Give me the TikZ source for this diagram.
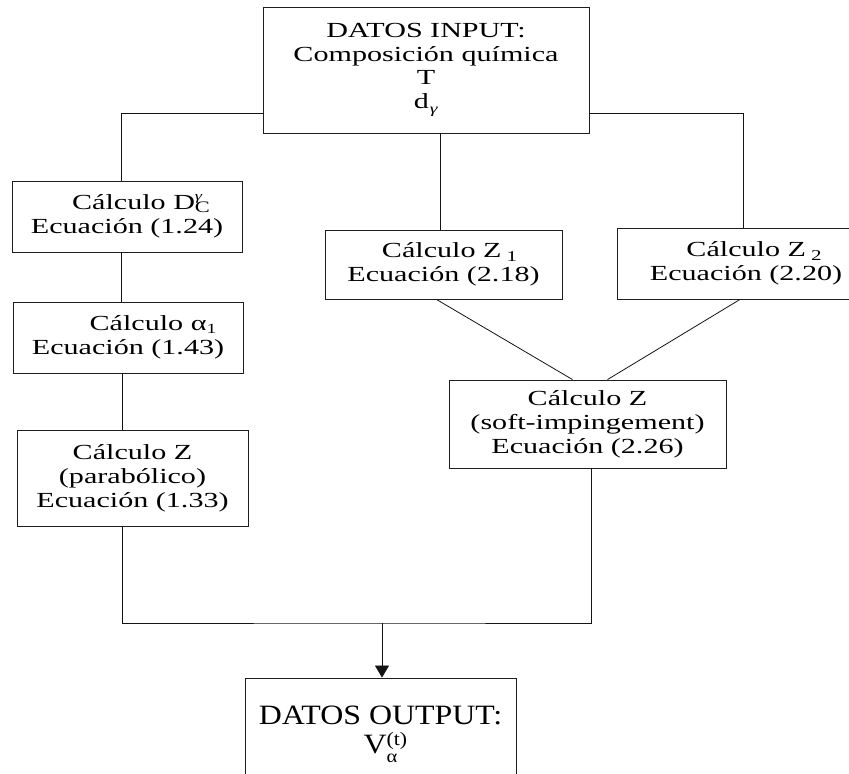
\documentclass[tikz,border=0pt]{standalone}
\usepackage{fontspec}
\setmainfont{Liberation Serif}[FakeStretch=1.4]
\newfontfamily\outfont{Liberation Serif}[FakeStretch=1.14]
\usepackage{tikz}
\usetikzlibrary{arrows.meta}

\begin{document}
\begin{tikzpicture}[x=1pt,y=-1pt,
  calcbox/.style={draw={rgb,255:red,30;green,30;blue,30},line width=0.9pt,inner sep=0pt,align=center,font=\fontsize{21.5}{24}\selectfont},
  link/.style={draw={rgb,255:red,20;green,20;blue,20},line width=0.8pt}]
\path[use as bounding box] (0,0) rectangle (849,774);
\path[fill=white,draw=none] (0,0) rectangle (849,774);
\node[calcbox,minimum width=326pt,minimum height=126pt,font=\fontsize{21.5}{23.5}\selectfont] (inp) at (426,70) {DATOS INPUT:\\Composición química\\T\\d\hspace{1pt}\raisebox{-5pt}{\fontsize{14}{14}\selectfont\textit{γ}}};
\node[calcbox,minimum width=230pt,minimum height=71pt] (dc) at (127,216.5) {\hspace*{28pt}Cálculo D\rlap{\raisebox{9pt}{\fontsize{13}{13}\selectfont\textit{γ}}}\raisebox{-3pt}{\fontsize{16}{16}\selectfont C}\\Ecuación (1.24)};
\node[calcbox,minimum width=230pt,minimum height=71pt] (al) at (128,337.5) {\hspace*{50pt}Cálculo α\raisebox{-3pt}{\fontsize{14}{14}\selectfont 1}\\Ecuación (1.43)};
\node[calcbox,minimum width=231pt,minimum height=96pt] (par) at (132.5,478) {Cálculo Z\\(parabólico)\\Ecuación (1.33)};
\node[calcbox,minimum width=237pt,minimum height=69pt] (z1) at (443.5,264.5) {\hspace*{12pt}Cálculo Z\hspace{5pt}\raisebox{-4pt}{\fontsize{15}{15}\selectfont 1}\\Ecuación (2.18)};
\node[calcbox,minimum width=258pt,minimum height=71pt] (z2) at (746,263.5) {\hspace*{16pt}Cálculo Z\hspace{5pt}\raisebox{-4pt}{\fontsize{15}{15}\selectfont 2}\\Ecuación (2.20)};
\node[calcbox,minimum width=277pt,minimum height=88pt] (soft) at (587.5,424) {Cálculo Z\\(soft-impingement)\\Ecuación (2.26)};
\node[calcbox,minimum width=271pt,minimum height=112pt,font=\outfont\fontsize{28}{29}\selectfont] (out) at (380.5,734) {DATOS OUTPUT:\\V\rlap{\raisebox{8pt}{\fontsize{19}{19}\selectfont (t)}}\raisebox{-9pt}{\fontsize{18}{18}\selectfont α}\hspace{14pt}};
\coordinate (lk) at (121,113);
\coordinate (rk) at (743,113);
\coordinate (mk) at (440,133);
\coordinate (jn) at (382,623);
\draw[link] (inp.west |- lk) -- (lk) -- (lk |- dc.north);
\draw[link] (inp.east |- rk) -- (rk) -- (rk |- z2.north);
\draw[link] (mk) -- (mk |- z1.north);
\draw[link] (dc.south -| lk) -- (al.north -| lk);
\draw[link] ([xshift=1pt]al.south -| lk) -- ([xshift=1pt]par.north -| lk);
\draw[link] ([xshift=-7pt]z1.south) -- ([xshift=-15pt]soft.north);
\draw[link] ([xshift=-6pt]z2.south) -- ([xshift=20pt]soft.north);
\draw[link] ([xshift=-10pt]par.south) |- (jn) -| ([xshift=3.5pt]soft.south);
\draw[link,-{Triangle[length=12pt,width=14pt]}] (jn) -- (out.north -| jn);
\end{tikzpicture}
\end{document}
